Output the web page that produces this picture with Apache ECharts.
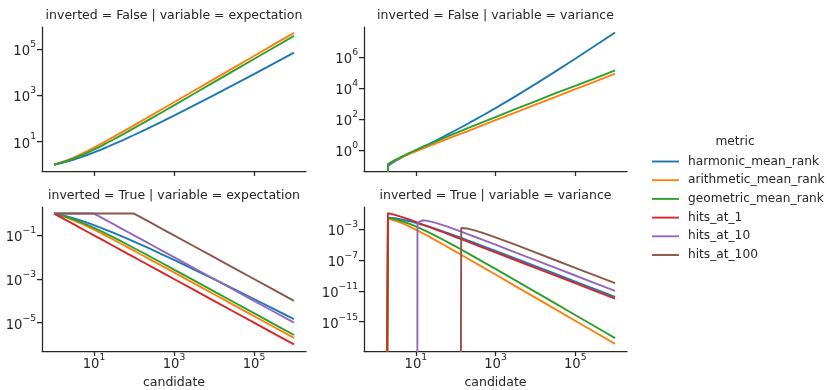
<!DOCTYPE html>
<html>
<head>
<meta charset="utf-8">
<script src="https://cdn.jsdelivr.net/npm/echarts@6/dist/echarts.min.js"></script>
<style>
  html, body { margin: 0; padding: 0; background: #fff; }
  #main { width: 827px; height: 390px; }
</style>
</head>
<body>
<div id="main"></div>
<script>
// number of candidates (x values, shared by every panel)
const candidates = [1, 2, 3, 5, 7, 10, 11, 15, 20, 30, 50, 70, 100, 138, 200, 300, 500, 1000, 3000, 1e4, 3e4, 1e5, 3e5, 1e6];

const metrics = ['harmonic_mean_rank', 'arithmetic_mean_rank', 'geometric_mean_rank', 'hits_at_1', 'hits_at_10', 'hits_at_100'];
const colors = ['#1f77b4', '#ff7f0e', '#2ca02c', '#d62728', '#9467bd', '#8c564b'];

// inverted = False | variable = expectation
const expHMR = [1, 1.333, 1.636, 2.190, 2.700, 3.414, 3.643, 4.521, 5.559, 7.509, 11.11, 14.48, 19.28, 25.05, 34.03, 47.75, 73.61, 133.6, 349.5, 1022, 2756, 8271, 22747, 69479];
const expAMR = [1, 1.5, 2, 3, 4, 5.5, 6, 8, 10.5, 15.5, 25.5, 35.5, 50.5, 69.5, 100.5, 150.5, 250.5, 500.5, 1500.5, 5000.5, 15000.5, 50000.5, 150000.5, 500000.5];
const expGMR = [1, 1.414, 1.817, 2.605, 3.380, 4.529, 4.909, 6.423, 8.305, 12.04, 19.48, 26.90, 37.99, 52.02, 74.91, 111.8, 185.4, 369.5, 1105, 3681, 11039, 36790, 110367, 367882];

// inverted = False | variable = variance (0 where there is only one candidate)
const varHMR = [0, 0.0988, 0.1918, 0.3871, 0.5978, 0.9401, 1.060, 1.571, 2.266, 3.816, 7.445, 11.65, 18.86, 29.33, 49.16, 87.22, 182.1, 505.7, 2686, 17818, 105155, 769194, 4.891e6, 3.833e7];
const varAMR = [0, 0.125, 0.2222, 0.4, 0.5714, 0.825, 0.9091, 1.244, 1.663, 2.497, 4.165, 5.832, 8.333, 11.50, 16.67, 25.0, 41.67, 83.33, 250, 833.3, 2500, 8333, 25000, 83333];
const varGMR = [0, 0.1201, 0.2265, 0.4386, 0.6560, 0.9932, 1.107, 1.572, 2.165, 3.382, 5.883, 8.436, 12.32, 17.28, 25.44, 38.72, 65.35, 132.5, 415, 1370, 4350, 13800, 40603, 135337];

// inverted = True | variable = expectation
const invExpHMR = [1, 0.75, 0.6111, 0.4567, 0.3704, 0.2929, 0.2745, 0.2212, 0.1799, 0.1332, 0.08998, 0.06904, 0.05187, 0.03991, 0.02939, 0.02094, 0.01359, 0.007486, 0.002861, 9.788e-4, 3.629e-4, 1.209e-4, 4.396e-5, 1.439e-5];
const invExpAMR = [1, 0.6667, 0.5, 0.3333, 0.25, 0.1818, 0.1667, 0.125, 0.09524, 0.06452, 0.03922, 0.02817, 0.0198, 0.01439, 0.00995, 0.006645, 0.003992, 0.001998, 6.664e-4, 2.0e-4, 6.667e-5, 2.0e-5, 6.667e-6, 2.0e-6];
const invExpGMR = [1, 0.7071, 0.5503, 0.3839, 0.2959, 0.2208, 0.2037, 0.1557, 0.1204, 0.08303, 0.05133, 0.03717, 0.02632, 0.01922, 0.01335, 0.008946, 0.005394, 0.002706, 9.046e-4, 2.717e-4, 9.059e-5, 2.718e-5, 9.061e-6, 2.718e-6];
const invExpHits1 = [1, 0.5, 0.3333, 0.2, 0.1429, 0.1, 0.09091, 0.06667, 0.05, 0.03333, 0.02, 0.01429, 0.01, 0.007246, 0.005, 0.003333, 0.002, 0.001, 3.333e-4, 1e-4, 3.333e-5, 1e-5, 3.333e-6, 1e-6];
const invExpHits10 = [1, 1, 1, 1, 1, 1, 0.9091, 0.6667, 0.5, 0.3333, 0.2, 0.1429, 0.1, 0.07246, 0.05, 0.03333, 0.02, 0.01, 0.003333, 0.001, 3.333e-4, 1e-4, 3.333e-5, 1e-5];
const invExpHits100 = [1, 1, 1, 1, 1, 1, 1, 1, 1, 1, 1, 1, 1, 0.7246, 0.5, 0.3333, 0.2, 0.1, 0.03333, 0.01, 0.003333, 0.001, 3.333e-4, 1e-4];

// inverted = True | variable = variance
const invVarHMR = [0, 0.03125, 0.02675, 0.01684, 0.01125, 0.006919, 0.006024, 0.003762, 0.002373, 0.0012, 4.881e-4, 2.647e-4, 1.366e-4, 7.445e-5, 3.668e-5, 1.678e-5, 6.202e-6, 1.588e-6, 1.8e-7, 1.635e-8, 1.823e-9, 1.643e-10, 1.827e-11, 1.645e-12];
const invVarAMR = [0, 0.02469, 0.01389, 0.004938, 0.002232, 9.016e-4, 7.015e-4, 3.038e-4, 1.368e-4, 4.326e-5, 9.850e-6, 3.672e-6, 1.281e-6, 4.929e-7, 1.634e-7, 4.873e-8, 1.058e-8, 1.328e-9, 4.932e-11, 1.333e-12, 4.938e-14, 1.333e-15, 4.938e-17, 1.333e-18];
const invVarGMR = [0, 0.03003, 0.02077, 0.009521, 0.005026, 0.002361, 0.001906, 9.235e-4, 4.551e-4, 1.608e-4, 4.085e-5, 1.611e-5, 5.913e-6, 2.359e-6, 8.081e-7, 2.478e-7, 5.531e-8, 7.106e-9, 2.692e-10, 7.344e-12, 2.730e-13, 7.388e-15, 2.737e-16, 7.389e-18];
const invVarHits1 = [0, 0.125, 0.07407, 0.032, 0.01749, 0.009, 0.007513, 0.004148, 0.002375, 0.001074, 3.92e-4, 2.012e-4, 9.9e-5, 5.213e-5, 2.488e-5, 1.107e-5, 3.992e-6, 9.99e-7, 1.111e-7, 9.999e-9, 1.111e-9, 1e-10, 1.111e-11, 1e-12];
const invVarHits10 = [0, 0, 0, 0, 0, 0, 0.007513, 0.01481, 0.0125, 0.007407, 0.0032, 0.001749, 9e-4, 4.871e-4, 2.375e-4, 1.074e-4, 3.92e-5, 9.9e-6, 1.107e-6, 9.99e-8, 1.111e-8, 9.999e-10, 1.111e-10, 1e-11];
const invVarHits100 = [0, 0, 0, 0, 0, 0, 0, 0, 0, 0, 0, 0, 0, 0.001446, 0.00125, 7.407e-4, 3.2e-4, 9e-5, 1.074e-5, 9.9e-7, 1.107e-7, 9.99e-9, 1.111e-9, 1e-10];

// tick positions
const xTicks = [10, 1e3, 1e5];
const yTicks1 = [10, 1e3, 1e5];
const yTicks2 = [1, 100, 1e4, 1e6];
const yTicks3 = [1e-5, 1e-3, 1e-1];
const yTicks4 = [1e-15, 1e-11, 1e-7, 1e-3];

const ink = '#262626';
const font = 'DejaVu Sans';
// zero can't sit on a log axis: push it far below the frame, the grid clip cuts it like matplotlib does
const ZERO_FLOOR = 1e-300;

const panels = [
  { title: 'inverted = False | variable = expectation', left: 42, top: 27, width: 264, yExp: [-0.27, 5.95], yTicks: yTicks1, lines: [expHMR, expAMR, expGMR], bottom: false },
  { title: 'inverted = False | variable = variance', left: 364, top: 27, width: 263, yExp: [-1.355, 7.935], yTicks: yTicks2, lines: [varHMR, varAMR, varGMR], bottom: false },
  { title: 'inverted = True | variable = expectation', left: 42, top: 207, width: 264, yExp: [-6.3, 0.3], yTicks: yTicks3, lines: [invExpHMR, invExpAMR, invExpGMR, invExpHits1, invExpHits10, invExpHits100], bottom: true },
  { title: 'inverted = True | variable = variance', left: 364, top: 207, width: 263, yExp: [-18.805, -0.104], yTicks: yTicks4, lines: [invVarHMR, invVarAMR, invVarGMR, invVarHits1, invVarHits10, invVarHits100], bottom: true }
];

function powLabel(v) {
  const e = Math.round(Math.log10(v));
  return '{b|10}{sup|' + (e < 0 ? '\u2212' + (-e) : e) + '}';
}

const labelRich = {
  b: { fontFamily: font, fontSize: 13.2, color: ink, lineHeight: 18, verticalAlign: 'bottom' },
  sup: { fontFamily: font, fontSize: 9.2, color: ink, lineHeight: 10, verticalAlign: 'top' }
};

const axisLine = { show: true, lineStyle: { color: ink, width: 1.25 } };

const grids = [], xAxes = [], yAxes = [], series = [], graphics = [];

panels.forEach((p, i) => {
  grids.push({ left: p.left, top: p.top, width: p.width, height: 144, containLabel: false });
  xAxes.push({
    gridIndex: i,
    type: 'log',
    min: Math.pow(10, -0.3),
    max: Math.pow(10, 6.3),
    axisLine: axisLine,
    axisTick: { show: true, length: 5, lineStyle: { color: ink, width: 1.25 }, customValues: xTicks },
    axisLabel: { show: p.bottom, customValues: xTicks, formatter: powLabel, rich: labelRich, margin: 2 },
    splitLine: { show: false },
    minorTick: { show: false },
    name: p.bottom ? 'candidate' : '',
    nameLocation: 'middle',
    nameGap: 25,
    nameTextStyle: { fontFamily: font, fontSize: 12.5, color: ink }
  });
  yAxes.push({
    gridIndex: i,
    type: 'log',
    min: Math.pow(10, p.yExp[0]),
    max: Math.pow(10, p.yExp[1]),
    axisLine: axisLine,
    axisTick: { show: true, length: 5, lineStyle: { color: ink, width: 1.25 }, customValues: p.yTicks },
    axisLabel: { show: true, customValues: p.yTicks, formatter: powLabel, rich: labelRich, margin: 6 },
    splitLine: { show: false },
    minorTick: { show: false }
  });
  p.lines.forEach((vals, k) => {
    series.push({
      name: metrics[k],
      type: 'line',
      xAxisIndex: i,
      yAxisIndex: i,
      data: candidates.map((c, j) => [c, vals[j] > 0 ? vals[j] : ZERO_FLOOR]),
      symbol: 'none',
      showSymbol: false,
      smooth: false,
      clip: true,
      lineStyle: { color: colors[k], width: 1.9 },
      itemStyle: { color: colors[k] },
      emphasis: { disabled: true }
    });
  });
  graphics.push({
    type: 'text',
    x: p.left + p.width / 2,
    y: p.top - 11,
    style: { text: p.title, fill: ink, font: '12.5px "' + font + '"', textAlign: 'center', textVerticalAlign: 'middle' }
  });
});

graphics.push({
  type: 'text',
  x: 735,
  y: 142,
  style: { text: 'metric', fill: ink, font: '12.2px "' + font + '"', textAlign: 'center', textVerticalAlign: 'middle' }
});

const chart = echarts.init(document.getElementById('main'), null, { renderer: 'canvas' });
chart.setOption({
  animation: false,
  backgroundColor: '#ffffff',
  color: colors,
  textStyle: { fontFamily: font, color: ink },
  grid: grids,
  xAxis: xAxes,
  yAxis: yAxes,
  series: series,
  legend: {
    orient: 'vertical',
    left: 646,
    top: 150.5,
    itemWidth: 27,
    itemHeight: 14,
    itemGap: 6.7,
    selectedMode: false,
    data: metrics,
    itemStyle: { opacity: 0 },
    lineStyle: { width: 1.9 },
    textStyle: { fontFamily: font, fontSize: 12.2, color: ink, padding: [0, 0, 0, 4] }
  },
  graphic: graphics
});
</script>
</body>
</html>
